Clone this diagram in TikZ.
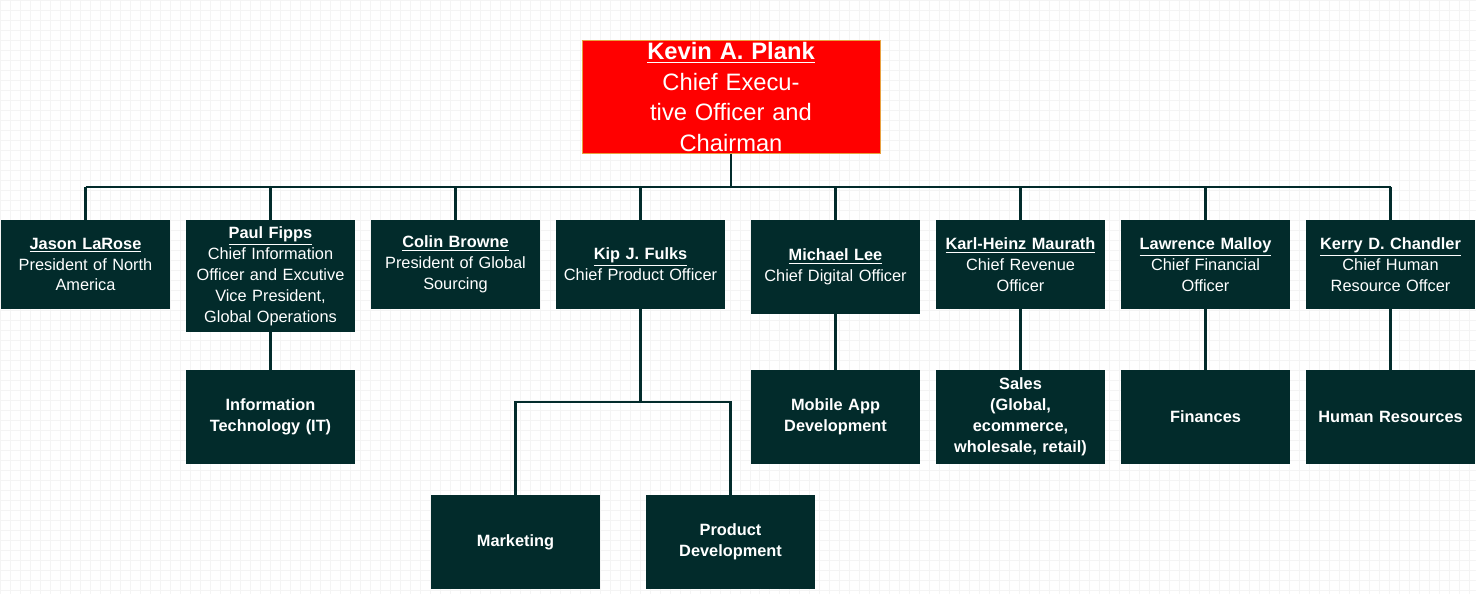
\documentclass[tikz,border=0pt]{standalone}
\usepackage{fontspec}
\setmainfont{Liberation Sans}
\usetikzlibrary{positioning}
\definecolor{boxfill}{HTML}{022B2B}
\definecolor{ceored}{HTML}{FF0000}
\definecolor{ceoline}{HTML}{E8A040}
\definecolor{gridline}{HTML}{F4F4F4}
\tikzset{
  person/.style={fill=boxfill, text=white, align=center, font=\fontsize{9.3}{11.9}\selectfont,
    text width=3.2cm, minimum width=3.38cm, minimum height=1.78cm, inner sep=1pt},
  unit/.style={person, font=\fontsize{9.3}{11.9}\selectfont\bfseries, minimum height=1.88cm},
  link/.style={draw=boxfill, line width=1.2pt}
}
\newcommand{\who}[1]{\textbf{\underline{#1}}}
\begin{document}
\begin{tikzpicture}[x=0.02cm, y=-0.02cm]
  \useasboundingbox (0,0) rectangle (1476,594);
  \fill[white] (0,0) rectangle (1476,594);
  \draw[gridline, step=0.2cm] (0,0) grid (1476,594);

  % chairman
  \node[fill=ceored, draw=ceoline, text=white, align=center, text width=5.8cm, minimum width=5.96cm,
    minimum height=2.24cm, inner sep=1pt, font=\fontsize{13.5}{17.5}\selectfont] (plank) at (731,97)
    {\who{Kevin A. Plank}\\Chief Executive Officer and\\Chairman};

  % first row
  \node[person] (larose) at (85.5,264.5) {\who{Jason LaRose}\\President of North\\America};
  \node[person, minimum height=2.24cm] (fipps) at (270.5,276) {\who{Paul Fipps}\\Chief Information\\Officer and Excutive\\Vice President,\\Global Operations};
  \node[person] (browne) at (455.5,264.5) {\who{Colin Browne}\\President of Global\\Sourcing};
  \node[person] (fulks) at (640.5,264.5) {\who{Kip J. Fulks}\\Chief Product Officer};
  \node[person, minimum height=1.88cm] (lee) at (835.5,267) {\who{Michael Lee}\\Chief Digital Officer};
  \node[person] (maurath) at (1020.5,264.5) {\who{Karl-Heinz Maurath}\\Chief Revenue\\Officer};
  \node[person] (malloy) at (1205.5,264.5) {\who{Lawrence Malloy}\\Chief Financial\\Officer};
  \node[person] (chandler) at (1390.5,264.5) {\who{Kerry D. Chandler}\\Chief Human\\Resource Offcer};

  % departments
  \node[unit] (it) at (270.5,417) {Information\\Technology (IT)};
  \node[unit] (mobile) at (835.5,417) {Mobile App\\Development};
  \node[unit] (sales) at (1020.5,417) {Sales\\(Global,\\ecommerce,\\wholesale, retail)};
  \node[unit] (finances) at (1205.5,417) {Finances};
  \node[unit] (hr) at (1390.5,417) {Human Resources};
  \node[unit] (marketing) at (515.5,542) {Marketing};
  \node[unit] (proddev) at (730.5,542) {Product\\Development};

  % connectors
  \coordinate (bus) at (731,187);
  \coordinate (split) at (640.5,402);
  \draw[link] (plank.south) -- (bus);
  \draw[link] (bus -| larose) -- (bus -| chandler);
  \foreach \n in {larose,fipps,browne,fulks,lee,maurath,malloy,chandler}
    \draw[link] (bus -| \n) -- (\n.north);
  \draw[link] (fipps.south) -- (it.north);
  \draw[link] (lee.south) -- (mobile.north);
  \draw[link] (maurath.south) -- (sales.north);
  \draw[link] (malloy.south) -- (finances.north);
  \draw[link] (chandler.south) -- (hr.north);
  \draw[link] (fulks.south) -- (split);
  \draw[link] (marketing.north) |- (split) -| (proddev.north);
\end{tikzpicture}
\end{document}
